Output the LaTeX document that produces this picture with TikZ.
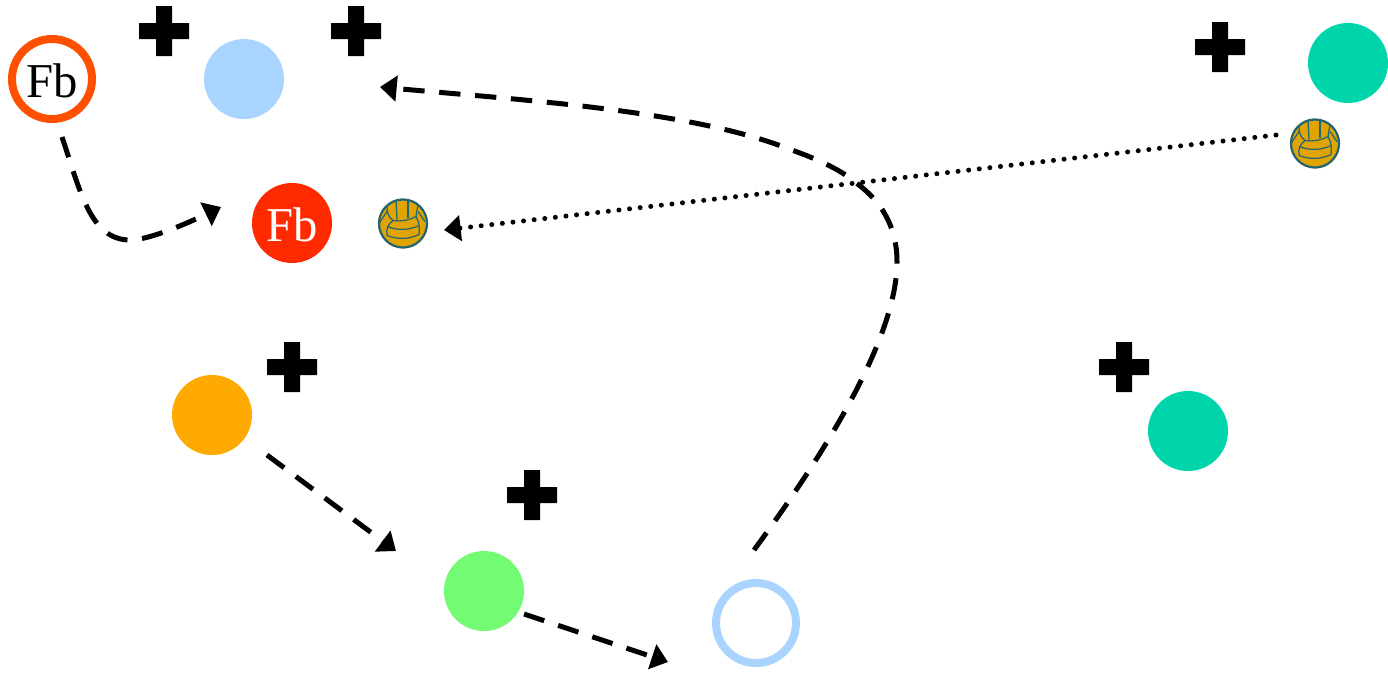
\documentclass[tikz,border=0pt]{standalone}
\usepackage{fontspec}
\setmainfont{Liberation Serif}
\usetikzlibrary{arrows.meta}
\definecolor{ringorange}{HTML}{FF5000}
\definecolor{fbred}{HTML}{FF2A00}
\definecolor{skyb}{HTML}{A8D4FF}
\definecolor{teal1}{HTML}{00D4AA}
\definecolor{orange1}{HTML}{FFAA00}
\definecolor{green1}{HTML}{73FB73}
\definecolor{ballgold}{HTML}{E0A400}
\definecolor{ballline}{HTML}{1F6478}
\pgfdeclareradialshading{ballshade}{\pgfpoint{0bp}{0bp}}{color(0bp)=(ballgold); color(26bp)=(ballgold); color(33bp)=(ballline); color(50bp)=(ballline)}
\tikzset{
  x=0.75pt,y=-0.75pt,
  disc/.style={circle,minimum size=60pt,inner sep=0pt,fill=#1,text=white,font=\fontsize{36.5}{36.5}\selectfont,text height=27.8pt,text depth=0pt},
  ring/.style={circle,minimum size=60pt,inner sep=0pt,line width=6pt,draw=#1,font=\fontsize{36.5}{36.5}\selectfont,text height=27.8pt,text depth=0pt},
  plusmark/.pic={
    \fill[black] (-25,-8) -- (-8,-8) -- (-8,-25) -- (8,-25) -- (8,-8) -- (25,-8) -- (25,8) -- (8,8) -- (8,25) -- (-8,25) -- (-8,8) -- (-25,8) -- cycle;
  },
  ballmark/.pic={
    \shade[shading=ballshade] (0,0) circle (25);
    \draw[ballline,line width=1.6pt] (0,0) circle (24);
    \begin{scope}[line width=0.9pt,draw=ballline]
      \draw (-7,-24) -- (-6,-4);
      \draw (5,-23) -- (5,-6);
      \draw (-16,-17) .. controls (-16,-10) and (-14,-6) .. (-10,-3);
      \draw (-10,-3) .. controls (-2,-2) and (6,-3) .. (13,-7);
      \draw (15,-19) -- (13,-7);
      \draw (-10,-3) .. controls (-15,1) and (-17,5) .. (-16,12);
      \draw (-16,3) .. controls (-6,7) and (6,7) .. (16,2);
      \draw (-16,12) .. controls (-6,16) and (6,16) .. (16,11);
      \draw (13,-7) .. controls (16,-2) and (17,4) .. (16,11);
      \draw (-16,-12) -- (-24,0);
      \draw (15,-12) -- (22,-2);
    \end{scope}
  },
  flow/.style={line width=3.75pt,dash pattern=on 16pt off 11pt,-{Triangle[length=12.5pt,width=19pt]}},
  pass/.style={line width=3.75pt,line cap=round,dash pattern=on 0pt off 8pt,-{Triangle[length=12.5pt,width=19pt]}}
}
\begin{document}
\begin{tikzpicture}
\useasboundingbox (0,0) rectangle (1388,672);
\node[ring=ringorange] (fbring) at (52,79) {Fb};
\node[disc=skyb] (blue) at (244,79) {};
\node[disc=fbred] (fb) at (292,223) {Fb};
\node[disc=teal1] (tealtop) at (1348,63) {};
\node[disc=teal1] (tealbot) at (1188,431) {};
\node[disc=orange1] (orange) at (212,415) {};
\node[disc=green1] (green) at (484,591) {};
\node[ring=skyb] (bluering) at (756,623) {};

\pic at (164,31) {plusmark};
\pic at (356,31) {plusmark};
\pic at (1220,47) {plusmark};
\pic at (292,367) {plusmark};
\pic at (532,495) {plusmark};
\pic at (1124,367) {plusmark};

\pic at (403,223.5) {ballmark};
\pic at (1315,143.5) {ballmark};

\coordinate (a1) at (62,137);
\coordinate (a2) at (221,207);
\draw[flow] (a1) .. controls (80,190) and (90,240) .. (130,240) .. controls (150,240) and (190,222) .. (a2);

\coordinate (b1) at (267,455);
\coordinate (b2) at (396,551);
\draw[flow] (b1) -- (b2);

\coordinate (c1) at (524,614);
\coordinate (c2) at (668,662);
\draw[flow] (c1) -- (c2);

\coordinate (d1) at (754,550);
\coordinate (d2) at (380,87);
\draw[flow] (d1) .. controls (820,460) and (897,340) .. (897,262) .. controls (897,225) and (880,200) .. (855,182) .. controls (835,165) and (800,153) .. (789,149) .. controls (690,110) and (520,100) .. (d2);

\coordinate (e1) at (1276,135);
\coordinate (e2) at (444,230);
\draw[pass] (e1) -- (e2);
\end{tikzpicture}
\end{document}
